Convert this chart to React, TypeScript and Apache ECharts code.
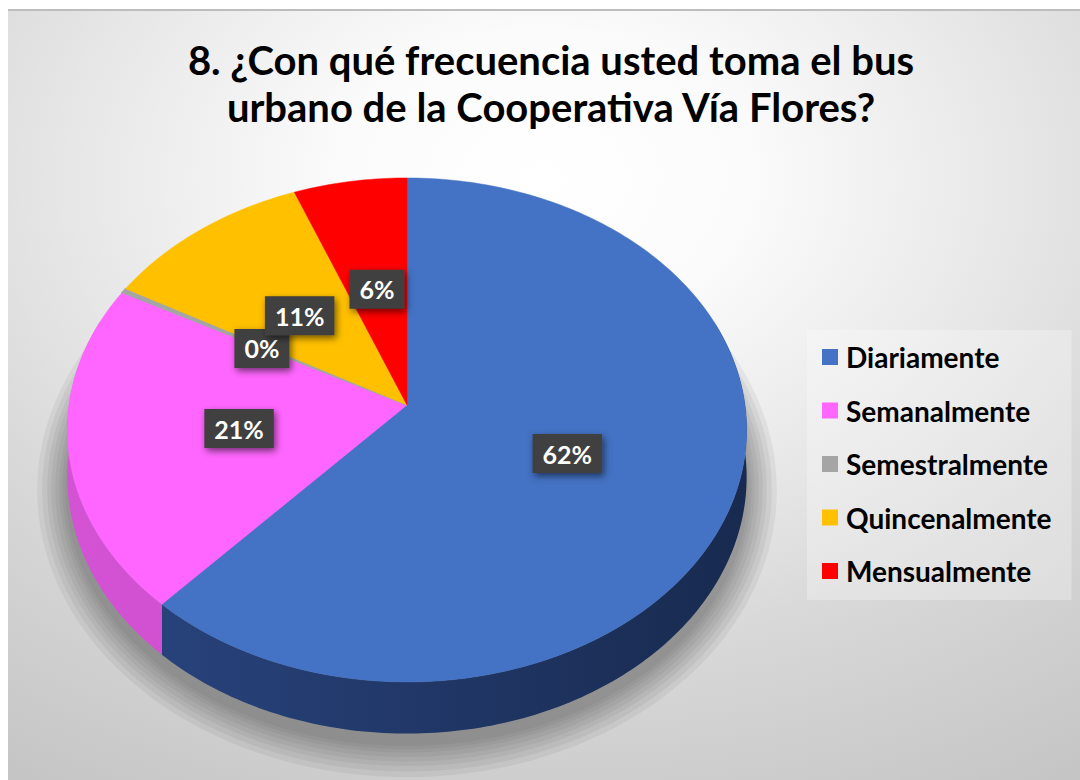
import React, { useEffect, useRef } from 'react';
import * as echarts from 'echarts';

const titleLines = ['8. ¿Con qué frecuencia usted toma el bus', 'urbano de la Cooperativa Vía Flores?'];
const categories = ['Diariamente', 'Semanalmente', 'Semestralmente', 'Quincenalmente', 'Mensualmente'];
const values = [62, 21, 0.3, 11, 6];
const topColors = ['#4472C4', '#FF66FF', '#A5A5A5', '#FFC000', '#FF0000'];
const sideLight = ['#2A4682', '#D452D4', '#8A8A8A', '#C99A00', '#C80000'];
const sideDark = ['#182A4F', '#C04AC0', '#7A7A7A', '#B08600', '#B00000'];

// 3D pie geometry (page pixel space)
const CX = 407, CY = 405, RX = 338, RY = 252, K = 0.099, DEPTH = 47;
const FONT = 'Lato, "Open Sans", sans-serif';

function project(f: number, phi: number): [number, number, number] {
  const u = f * Math.sin(phi);
  const w = -f * Math.cos(phi);
  const s = 1 + K * w;
  return [CX + RX * u * s, CY + RY * w * s, s];
}

function arc(a0: number, a1: number): [number, number, number][] {
  const n = Math.max(2, Math.ceil(Math.abs(a1 - a0) / (Math.PI / 180)));
  const pts: [number, number, number][] = [];
  for (let i = 0; i <= n; i++) pts.push(project(1, a0 + ((a1 - a0) * i) / n));
  return pts;
}

const total = values.reduce((a, b) => a + b, 0);
function sliceAngles(i: number): [number, number] {
  let before = 0;
  for (let j = 0; j < i; j++) before += values[j];
  return [(before / total) * Math.PI * 2, ((before + values[i]) / total) * Math.PI * 2];
}

function makeRenderItem(i: number) {
  return (params: any, api: any) => {
    const v = api.value(0);
    const [a0, a1] = sliceAngles(i);
    const children: any[] = [];
    const sMin = Math.PI / 2 - 0.35;
    const sMax = (3 * Math.PI) / 2 + 0.35;
    const b0 = Math.max(a0, sMin);
    const b1 = Math.min(a1, sMax);
    if (b1 > b0) {
      const top = arc(b0, b1);
      const bottom = top.map((p) => [p[0], p[1] + DEPTH * p[2]]).reverse();
      const pts = top.map((p) => [p[0], p[1]]).concat(bottom);
      children.push({
        type: 'polygon',
        z2: 1,
        shape: { points: pts },
        style: {
          fill: {
            type: 'linear', x: CX - RX, y: 0, x2: CX + RX, y2: 0, global: true,
            colorStops: [{ offset: 0, color: sideLight[i] }, { offset: 1, color: sideDark[i] }],
          },
          stroke: null,
        },
      });
    }
    const topPts = [[CX, CY]].concat(arc(a0, a1).map((p) => [p[0], p[1]]));
    children.push({
      type: 'polygon',
      z2: 5,
      shape: { points: topPts },
      style: { fill: topColors[i], stroke: topColors[i], lineWidth: v / total < 0.01 ? 1.5 : 0.5 },
    });
    const mid = (a0 + a1) / 2;
    const lp = project(0.5, mid);
    children.push({
      type: 'text',
      z2: 10,
      x: lp[0],
      y: lp[1] + 2,
      style: {
        text: Math.round((v / total) * 100) + '%',
        fill: '#FFFFFF',
        font: 'bold 25px ' + FONT,
        align: 'center',
        verticalAlign: 'middle',
        textAlign: 'center',
        textVerticalAlign: 'middle',
        backgroundColor: '#3F3F3F',
        padding: [7, 10, 7, 10],
        shadowColor: 'rgba(0,0,0,0.55)',
        shadowBlur: 7,
        shadowOffsetX: 2,
        shadowOffsetY: 3,
      },
    });
    return { type: 'group', children };
  };
}

// soft shadow under the pie: layered, slightly enlarged outlines of the base
function shadowLayer(grow: number, dy: number): number[][] {
  const pts: number[][] = [];
  for (let d = 0; d <= 360; d += 2) {
    const p = project(1, (d * Math.PI) / 180);
    const x = CX + (p[0] - CX) * (1 + grow / RX);
    const yb = p[1] + DEPTH * p[2];
    const y = CY + DEPTH + (yb - CY - DEPTH) * (1 + grow / RY) + dy;
    pts.push([x, y]);
  }
  return pts;
}

const shadowGraphics = [30, 25, 20, 16, 12, 8, 5, 2].map((g) => ({
  type: 'polygon',
  silent: true,
  shape: { points: shadowLayer(g, 10) },
  style: { fill: 'rgba(80,80,80,0.08)' },
}));

const App = () => {
  const ref = useRef<HTMLDivElement>(null);
  useEffect(() => {
    const chart = echarts.init(ref.current!, null, { renderer: 'svg' });
    chart.setOption({
      animation: false,
      backgroundColor: '#FFFFFF',
      title: {
        text: titleLines.join('\n'),
        left: 546,
        textAlign: 'center',
        top: 31,
        textStyle: { fontFamily: FONT, fontWeight: 'bold', fontSize: 40, lineHeight: 47, color: '#000000' },
      },
      legend: {
        orient: 'vertical',
        left: 807,
        top: 330,
        padding: [12, 20, 14, 15],
        itemWidth: 16,
        itemHeight: 16,
        itemGap: 23.5,
        icon: 'rect',
        selectedMode: false,
        backgroundColor: 'rgba(255,255,255,0.28)',
        data: categories,
        textStyle: { fontFamily: FONT, fontWeight: 'bold', fontSize: 28, lineHeight: 30, color: '#000000', padding: [0, 0, 0, 3] },
      },
      graphic: [
        {
          type: 'rect',
          silent: true,
          shape: { x: 8, y: 9, width: 1072, height: 771 },
          style: {
            fill: new echarts.graphic.RadialGradient(0.5, 0.22, 0.95, [
              { offset: 0, color: '#FFFFFF' },
              { offset: 0.2, color: '#FBFBFB' },
              { offset: 0.45, color: '#E8E8E8' },
              { offset: 0.65, color: '#D8D8D8' },
              { offset: 1, color: '#C3C3C3' },
            ]),
          },
        },
        {
          type: 'line',
          silent: true,
          shape: { x1: 8, y1: 10, x2: 1080, y2: 10 },
          style: { stroke: '#BDBDBD', lineWidth: 2 },
        },
        ...shadowGraphics,
      ],
      series: categories.map((name, i) => ({
        type: 'custom',
        name,
        coordinateSystem: 'none',
        silent: true,
        itemStyle: { color: topColors[i] },
        data: [values[i]],
        renderItem: makeRenderItem(i),
      })),
    });
    return () => chart.dispose();
  }, []);
  return <div ref={ref} style={{ position: 'absolute', left: 0, top: 0, width: 1080, height: 780 }} />;
};

export default App;
